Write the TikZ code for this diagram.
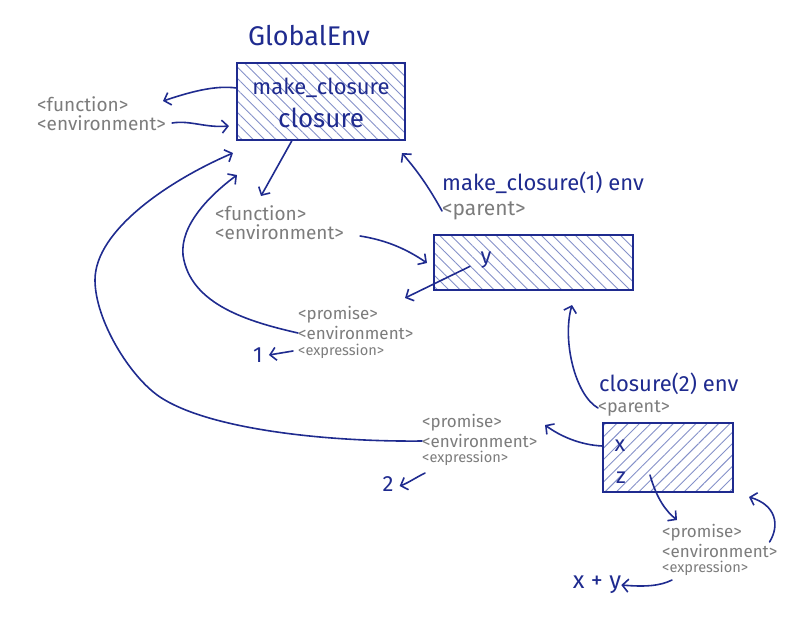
\documentclass[tikz,border=0pt]{standalone}
\usepackage{fontspec}
\setmainfont{Fira Sans}
\usetikzlibrary{arrows.meta,patterns.meta}
\definecolor{ink}{HTML}{1F2B8F}
\definecolor{hatchc}{HTML}{8591C9}
\definecolor{note}{HTML}{7C7C7C}
\tikzset{
  envbox/.style={draw=ink, line width=2pt, inner sep=0pt},
  hatchnw/.style={pattern={Lines[angle=-45,distance=8pt,line width=0.9pt]}, pattern color=hatchc},
  hatchne/.style={pattern={Lines[angle=45,distance=8pt,line width=0.9pt]}, pattern color=hatchc},
  lab/.style={text=ink, inner sep=0pt, font=\fontsize{22}{24}\selectfont},
  gl/.style={text=note, inner sep=0pt, anchor=west, font=\fontsize{19}{21}\selectfont},
  gs/.style={text=note, inner sep=0pt, anchor=west, font=\fontsize{17}{19}\selectfont},
  gx/.style={text=note, inner sep=0pt, anchor=west, font=\fontsize{14.6}{16}\selectfont},
  con/.style={draw=ink, line width=1.6pt, line cap=round, -{Straight Barb[length=6pt,width=13pt]}},
}
\begin{document}
\begin{tikzpicture}[x=1pt,y=-1pt]
\useasboundingbox (0,0) rectangle (800,633);
% boxes
\node[envbox, hatchnw, minimum width=168pt, minimum height=77pt] (g) at (321,101.5) {};
\node[envbox, hatchnw, minimum width=199pt, minimum height=55pt] (b2) at (533.5,262.5) {};
\node[envbox, hatchne, minimum width=130pt, minimum height=69pt] (b3) at (668,457.5) {};
% titles and labels
\node[lab, font=\fontsize{27}{29}\selectfont] (ge) at (309,36) {GlobalEnv};
\node[lab] (mc) at (321,88) {make\_closure};
\node[lab, font=\fontsize{26}{28}\selectfont] (cl) at (321,118) {closure};
\node[lab, anchor=west] (t2) at (442,183) {make\_closure(1) env};
\node[gl, font=\fontsize{21}{23}\selectfont] (p2) at (442,211) {<parent>};
\node[lab] (yv) at (486,260) {y};
\node[lab, anchor=west] (t3) at (599,384) {closure(2) env};
\node[gl, font=\fontsize{18}{20}\selectfont] (p3) at (598,408) {<parent>};
\node[lab] (xv) at (620,446) {x};
\node[lab] (zv) at (621,478) {z};
% gray notes
\node[gl] (f0) at (37,104) {<function>};
\node[gl] (e0) at (37,123) {<environment>};
\node[gl] (f1) at (215,213) {<function>};
\node[gl] (e1) at (215,232) {<environment>};
\node[gs] (pr1) at (298,315) {<promise>};
\node[gs] (en1) at (298,333) {<environment>};
\node[gx] (ex1) at (298,351) {<expression>};
\node[gs] (pr2) at (422,423) {<promise>};
\node[gs] (en2) at (422,441) {<environment>};
\node[gx] (ex2) at (422,458) {<expression>};
\node[gs] (pr3) at (662,533) {<promise>};
\node[gs] (en3) at (662,551) {<environment>};
\node[gx] (ex3) at (662,568) {<expression>};
% values
\node[lab] (one) at (258,355) {1};
\node[lab] (two) at (388,484) {2};
\node[lab, font=\fontsize{24}{26}\selectfont] (xy) at (597,585) {x + y};
% connector end points
\coordinate (f0tip) at (163,101);
\coordinate (e0tip) at (229,126);
\coordinate (f1tip) at (261,196);
\coordinate (b2tip) at (427,263);
\coordinate (pr1tip) at (405,298);
\coordinate (gtipA) at (233,153);
\coordinate (gtipB) at (237,175);
\coordinate (gtipC) at (402,153);
\coordinate (b2tipB) at (572,305);
\coordinate (pr2tip) at (545,425);
\coordinate (pr3tip) at (677,520);
\coordinate (b3tip) at (749,497);
% connectors
\draw[con] (g.west |- mc) .. controls (215,85) and (190,92) .. (f0tip);
\draw[con] ([xshift=6pt]e0.east) .. controls (190,120) and (205,128) .. (e0tip);
\draw[con] (g.south -| 292,0) -- (f1tip);
\draw[con] ([xshift=16pt,yshift=-4pt]e1.east) .. controls (385,240) and (405,248) .. (b2tip);
\draw[con] ([xshift=-16pt,yshift=2pt]yv.south) -- (pr1tip);
\draw[con] (p2.west) .. controls (425,180) and (412,165) .. (gtipC);
\draw[con] (en1.west) .. controls (250,322) and (190,305) .. (183,255)
   .. controls (180,225) and (210,195) .. (gtipB);
\draw[con] (en2.west) .. controls (330,442) and (210,430) .. (160,397)
   .. controls (130,377) and (95,320) .. (95,280)
   .. controls (95,230) and (170,180) .. (gtipA);
\draw[con] ([xshift=-5pt]ex1.west) -- ([xshift=6pt]one.east);
\draw[con] (p3.west) .. controls (575,395) and (562,340) .. (b2tipB);
\draw[con] (b3.west |- xv) .. controls (580,445) and (560,436) .. (pr2tip);
\draw[con] ([xshift=3pt,yshift=-15pt]ex2.west) .. controls (415,478) and (408,483) .. ([xshift=6pt,yshift=-2pt]two.east);
\draw[con] ([xshift=24pt,yshift=3pt]zv.east) .. controls (657,500) and (667,512) .. (pr3tip);
\draw[con] ([xshift=-8pt,yshift=9pt]en3.east) .. controls (780,525) and (776,505) .. (b3tip);
\draw[con] ([xshift=10pt,yshift=-12pt]ex3.west) .. controls (660,586) and (645,587) .. (xy.east);
\end{tikzpicture}
\end{document}
